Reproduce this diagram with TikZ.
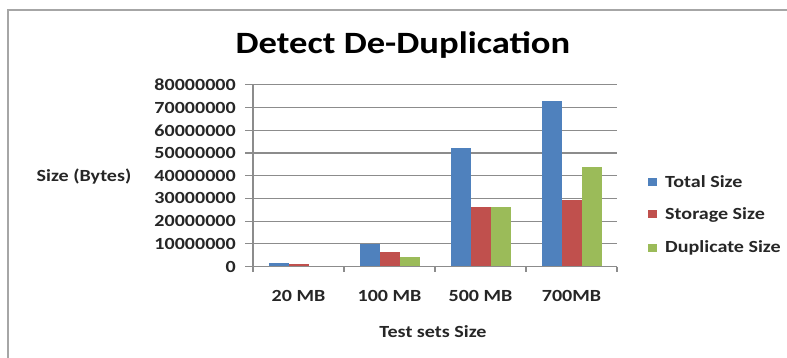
\documentclass[tikz,border=0pt]{standalone}
\usepackage{fontspec}
\setmainfont[FakeStretch=1.18]{Carlito}
\definecolor{barblue}{HTML}{4F81BD}
\definecolor{barred}{HTML}{C0504D}
\definecolor{bargreen}{HTML}{9BBB59}
\definecolor{gridgray}{HTML}{8C8C8C}
\definecolor{framegray}{HTML}{A6A6A6}
\begin{document}
\begin{tikzpicture}[x=1pt,y=-1pt,
  lbl/.style={font=\fontsize{17}{17}\selectfont\bfseries, text=black!85, inner sep=0pt},
  ylbl/.style={lbl, anchor=east},
  gridline/.style={draw=gridgray, line width=1.1pt},
  legsq/.style={minimum width=9pt, minimum height=8pt, inner sep=0pt}
]
\useasboundingbox (0,0) rectangle (787,358);
\fill[white] (0,0) rectangle (787,358);
% chart frame
\draw[framegray, line width=1.4pt] (8,360) -- (8,10) -- (790,10);
% title
\node[inner sep=0pt, font=\fontsize{31}{31}\selectfont\bfseries] (title) at (403,45) {Detect De-Duplication};
% gridlines and value labels
\foreach \k in {0,...,8}{
  \pgfmathsetmacro{\yy}{266.5-22.7*\k}
  \draw[gridline] (245,\yy) -- (617,\yy);
}
\node[ylbl] (y0) at (236,266.5) {0};
\node[ylbl] (y1) at (236,243.8) {10000000};
\node[ylbl] (y2) at (236,221.1) {20000000};
\node[ylbl] (y3) at (236,198.4) {30000000};
\node[ylbl] (y4) at (236,175.7) {40000000};
\node[ylbl] (y5) at (236,153.0) {50000000};
\node[ylbl] (y6) at (236,130.3) {60000000};
\node[ylbl] (y7) at (236,107.6) {70000000};
\node[ylbl] (y8) at (236,84.9) {80000000};
% bars
\newcommand{\drawbar}[4]{% category, series, value(M), colour
  \pgfmathsetmacro{\xl}{253+91*#1+15.5+20*#2}
  \pgfmathsetmacro{\yt}{266.5-2.27*#3}
  \fill[#4] (\xl,266.5) rectangle ({\xl+20},\yt);
}
\drawbar{0}{0}{1.7}{barblue}
\drawbar{0}{1}{1.0}{barred}
\drawbar{1}{0}{10}{barblue}
\drawbar{1}{1}{6.2}{barred}
\drawbar{1}{2}{4.1}{bargreen}
\drawbar{2}{0}{52}{barblue}
\drawbar{2}{1}{26.2}{barred}
\drawbar{2}{2}{26.2}{bargreen}
\drawbar{3}{0}{72.8}{barblue}
\drawbar{3}{1}{29.3}{barred}
\drawbar{3}{2}{44}{bargreen}
% axes
\draw[gridline] (253,84.9) -- (253,272);
\draw[gridline] (245,266.5) -- (617,266.5);
\foreach \i in {1,...,4}{
  \draw[gridline] ({253+91*\i},266.5) -- ({253+91*\i},272);
}
% category labels
\node[lbl] (c1) at (298.5,296) {20 MB};
\node[lbl] (c2) at (389.5,296) {100 MB};
\node[lbl] (c3) at (480.5,296) {500 MB};
\node[lbl] (c4) at (571.5,296) {700MB};
% axis titles
\node[lbl] (xtitle) at (433,332) {Test sets Size};
\node[lbl] (ytitle) at (84,177) {Size (Bytes)};
% legend
\node[legsq, fill=barblue] (l1) at (652,182) {};
\node[legsq, fill=barred] (l2) at (652,214.5) {};
\node[legsq, fill=bargreen] (l3) at (652,247.5) {};
\node[lbl, anchor=west] (t1) at (665,182) {Total Size};
\node[lbl, anchor=west] (t2) at (665,214.5) {Storage Size};
\node[lbl, anchor=west] (t3) at (665,247.5) {Duplicate Size};
\end{tikzpicture}
\end{document}
